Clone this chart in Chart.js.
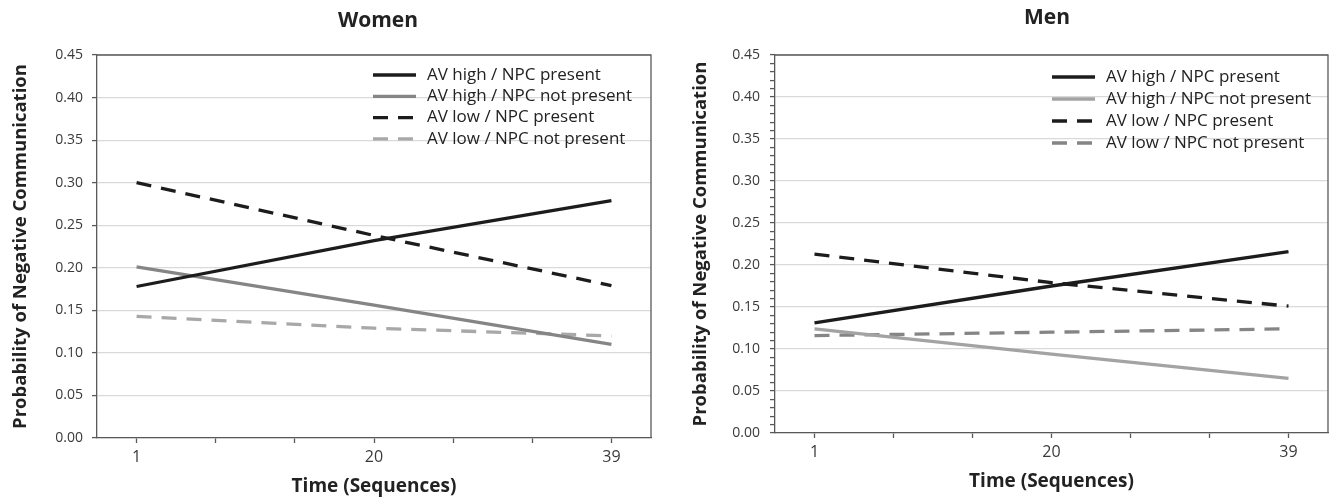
<!DOCTYPE html>
<html>
<head>
<meta charset="utf-8">
<script src="https://cdn.jsdelivr.net/npm/chart.js@4.4.0/dist/chart.umd.min.js"></script>
<style>
  html, body { margin: 0; padding: 0; background: #fff; }
  #women { position: absolute; left: 0; top: 0; width: 660px; height: 498px; }
  #men { position: absolute; left: 660px; top: 0; width: 672px; height: 498px; }
</style>
</head>
<body>
<div id="women"><canvas id="womenChart"></canvas></div>
<div id="men"><canvas id="menChart"></canvas></div>
<script>
// Time points (sequences) and the labelled x ticks
const timePoints = [1, 20, 39]
const xTickLabels = [1, 20, 39]
const yTickLabels = [0, 0.05, 0.1, 0.15, 0.2, 0.25, 0.3, 0.35, 0.4, 0.45]

const seriesNames = [
  "AV high / NPC present",
  "AV high / NPC not present",
  "AV low / NPC present",
  "AV low / NPC not present",
]

// Women
const womenHighPresent = [0.178, 0.232, 0.279]
const womenHighAbsent = [0.201, 0.156, 0.110]
const womenLowPresent = [0.300, 0.238, 0.179]
const womenLowAbsent = [0.143, 0.129, 0.120]

// Men
const menHighPresent = [0.131, 0.175, 0.216]
const menHighAbsent = [0.124, 0.094, 0.065]
const menLowPresent = [0.213, 0.179, 0.151]
const menLowAbsent = [0.116, 0.120, 0.124]

const FONT = "'Open Sans', sans-serif"
Chart.defaults.font.family = FONT

const axisColor = "#595959"
const textColor = "#3a3a3a"
const titleColor = "#222222"

// x axis: 7 tick intervals, categories sit in the middle of the outer ones
const xStep = (xTickLabels[1] - xTickLabels[0]) / 3
const xMin = xTickLabels[0] - xStep / 2
const xMax = xTickLabels[2] + xStep / 2
const xTickPositions = []
for (let i = 0; i <= 6; i++) xTickPositions.push(xTickLabels[0] + i * xStep)

const isLabelled = (v) => xTickLabels.some((t) => Math.abs(t - v) < 1e-6)
const isMajorY = (v) => yTickLabels.some((t) => Math.abs(t - v) < 1e-6)

const minorYTicks = []
for (let i = 0; i < yTickLabels.length - 1; i++) {
  const step = (yTickLabels[i + 1] - yTickLabels[i]) / 5
  for (let k = 0; k < 5; k++) minorYTicks.push(yTickLabels[i] + k * step)
}
minorYTicks.push(yTickLabels[yTickLabels.length - 1])

const toPoints = (values) => values.map((v, i) => ({ x: timePoints[i], y: v }))

// frame, panel title and inside legend
const panelDecor = {
  id: "panelDecor",
  afterDraw(chart, args, opts) {
    const { ctx, chartArea: a } = chart
    ctx.save()
    ctx.strokeStyle = axisColor
    ctx.lineWidth = 1.3
    ctx.beginPath()
    ctx.moveTo(a.left, a.top)
    ctx.lineTo(a.right, a.top)
    ctx.lineTo(a.right, a.bottom)
    ctx.stroke()

    ctx.fillStyle = titleColor
    ctx.font = "bold 21px " + FONT
    ctx.textAlign = "center"
    ctx.textBaseline = "middle"
    ctx.fillText(opts.title, opts.titleX, opts.titleY)

    ctx.font = "17px " + FONT
    ctx.textAlign = "left"
    chart.data.datasets.forEach((ds, i) => {
      const y = opts.legendY + i * opts.legendRow
      ctx.strokeStyle = ds.borderColor
      ctx.lineWidth = ds.borderWidth
      ctx.setLineDash(ds.borderDash || [])
      ctx.beginPath()
      ctx.moveTo(opts.legendX, y)
      ctx.lineTo(opts.legendX + 43, y)
      ctx.stroke()
      ctx.setLineDash([])
      ctx.fillStyle = titleColor
      ctx.fillText(ds.label, opts.legendX + 54, y)
    })
    ctx.restore()
  },
}

function makeChart(el, series, colors, cfg) {
  const dashes = [[], [], [15, 10], [15, 10]]
  return new Chart(el, {
    type: "line",
    data: {
      datasets: series.map((values, i) => ({
        label: seriesNames[i],
        data: toPoints(values),
        borderColor: colors[i],
        borderWidth: 3.3,
        borderDash: dashes[i],
        pointRadius: 0,
        tension: 0,
        fill: false,
      })),
    },
    options: {
      responsive: true,
      maintainAspectRatio: false,
      animation: false,
      layout: { padding: { top: cfg.top, right: cfg.right, left: 0, bottom: 0 } },
      plugins: {
        legend: { display: false },
        tooltip: { enabled: false },
        panelDecor: cfg.decor,
      },
      scales: {
        x: {
          type: "linear",
          min: xMin,
          max: xMax,
          afterBuildTicks: (s) => {
            s.ticks = xTickPositions.map((v) => ({ value: v }))
          },
          afterFit: (s) => {
            s.height = cfg.xHeight
          },
          ticks: {
            autoSkip: false,
            maxRotation: 0,
            padding: 5,
            color: textColor,
            font: { size: 16 },
            callback: (v) => (isLabelled(v) ? String(Math.round(v)) : ""),
          },
          grid: { drawOnChartArea: false, tickLength: 5, tickColor: axisColor, tickWidth: 1.3 },
          border: { color: axisColor, width: 1.3 },
          title: {
            display: true,
            text: "Time (Sequences)",
            color: titleColor,
            font: { size: 19, weight: "bold" },
            padding: { top: 0, bottom: cfg.xTitlePad },
          },
        },
        y: {
          min: 0,
          max: 0.45,
          afterBuildTicks: (s) => {
            s.ticks = (cfg.minor ? minorYTicks : yTickLabels).map((v) => ({ value: v }))
          },
          afterFit: (s) => {
            s.width = cfg.yWidth
          },
          ticks: {
            autoSkip: false,
            padding: cfg.yTickPad,
            color: textColor,
            font: { size: 14 },
            callback: (v) => (isMajorY(v) ? v.toFixed(2) : ""),
          },
          grid: {
            color: (c) => (c.tick && isMajorY(c.tick.value) ? "#d9d9d9" : "rgba(0,0,0,0)"),
            lineWidth: 1.2,
            tickColor: axisColor,
            tickLength: 5,
            tickWidth: 1.3,
          },
          border: { color: axisColor, width: 1.3 },
          title: {
            display: true,
            text: "Probability of Negative Communication",
            color: titleColor,
            font: { size: 18.5, weight: "bold" },
            padding: { top: cfg.yTitlePad, bottom: 0 },
          },
        },
      },
    },
    plugins: [panelDecor],
  })
}

makeChart(
  document.getElementById("womenChart"),
  [womenHighPresent, womenHighAbsent, womenLowPresent, womenLowAbsent],
  ["#1c1c1c", "#858585", "#1c1c1c", "#a8a8a8"],
  {
    top: 55, right: 9, xHeight: 60, yWidth: 97, yTickPad: 9, yTitlePad: 10, xTitlePad: 0, minor: false,
    decor: { title: "Women", titleX: 378, titleY: 21, legendX: 373, legendY: 75, legendRow: 21.3 },
  }
)

makeChart(
  document.getElementById("menChart"),
  [menHighPresent, menHighAbsent, menLowPresent, menLowAbsent],
  ["#1c1c1c", "#a3a3a3", "#1c1c1c", "#858585"],
  {
    top: 55, right: 4, xHeight: 65, yWidth: 115, yTickPad: 10, yTitlePad: 30, xTitlePad: 5, minor: true,
    decor: { title: "Men", titleX: 387, titleY: 18, legendX: 392, legendY: 77, legendRow: 22 },
  }
)
</script>
</body>
</html>
